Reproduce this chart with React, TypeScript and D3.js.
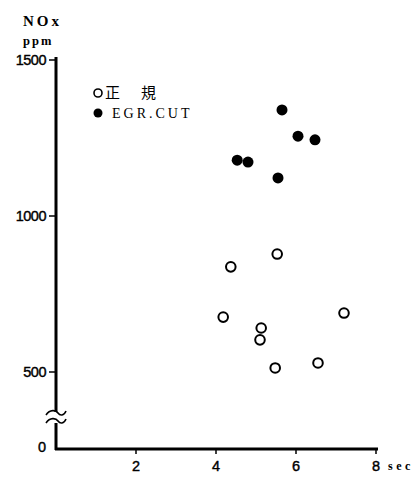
import React from "react";
import * as d3 from "d3";

const normalX = [5.53, 4.37, 4.18, 5.13, 5.1, 5.48, 6.55, 7.2];
const normalY = [878, 837, 676, 641, 603, 513, 529, 689];
const egrX = [5.65, 6.05, 6.475, 4.53, 4.8, 5.55];
const egrY = [1340, 1256, 1244, 1179, 1173, 1122];
const yTicks = [500, 1000, 1500];
const xTicks = [2, 4, 6, 8];
const legendLabels = ["正　規", "EGR.CUT"];

export default function App() {
  const x = d3.scaleLinear().domain([0, 8]).range([56, 376]);
  const y = d3.scaleLinear().domain([500, 1500]).range([372, 60]);
  const baseY = 449;
  const numFont = "'Liberation Sans', Arial, sans-serif";
  const serif = "'Liberation Serif', 'DejaVu Serif', serif";
  const tilde = (cy: number) =>
    `M46,${cy + 2} C50,${cy - 4} 56,${cy - 3} 58,${cy} C60,${cy + 3} 64,${cy + 3} 66,${cy - 2}`;
  return (
    <svg
      width={419}
      height={478}
      style={{ position: "absolute", left: 0, top: 0, background: "#fff" }}
    >
      <rect width={419} height={478} fill="#fff" />
      {/* y axis */}
      <line x1={56} x2={56} y1={57} y2={baseY + 1} stroke="#000" strokeWidth={3} />
      {/* x axis */}
      <line x1={55} x2={378} y1={baseY} y2={baseY} stroke="#000" strokeWidth={3} />
      {/* break */}
      <rect x={50} y={412} width={12} height={11} fill="#fff" />
      <path d={tilde(413)} fill="none" stroke="#000" strokeWidth={1.6} />
      <path d={tilde(421)} fill="none" stroke="#000" strokeWidth={1.6} />
      {/* y ticks */}
      {yTicks.map((t) => (
        <g key={t}>
          <line x1={49} x2={56} y1={y(t)} y2={y(t)} stroke="#000" strokeWidth={1.5} />
          <text
            x={46}
            y={y(t)}
            dy="0.36em"
            textAnchor="end"
            fontFamily={numFont}
            fontSize={14.5}
            stroke="#000"
            strokeWidth={0.4}
            letterSpacing={-0.5}
          >
            {t}
          </text>
        </g>
      ))}
      <text x={46} y={baseY - 2} dy="0.36em" textAnchor="end" fontFamily={numFont} fontSize={14.5} stroke="#000" strokeWidth={0.4}>
        0
      </text>
      {/* x ticks */}
      {xTicks.map((t) => (
        <g key={t}>
          <line x1={x(t)} x2={x(t)} y1={baseY} y2={baseY + 5} stroke="#000" strokeWidth={1.5} />
          <text
            x={x(t)}
            y={466}
            dy="0.36em"
            textAnchor="middle"
            fontFamily={numFont}
            fontSize={14.5}
            stroke="#000"
            strokeWidth={0.4}
          >
            {t}
          </text>
        </g>
      ))}
      <text x={388} y={466} dy="0.36em" fontFamily={serif} fontSize={12} fontWeight="bold" letterSpacing={3.5}>
        sec
      </text>
      {/* axis title */}
      <text x={23} y={26} fontFamily={serif} fontSize={15} fontWeight="bold" letterSpacing={3}>
        NOx
      </text>
      <text x={23} y={45} fontFamily={serif} fontSize={12.5} fontWeight="bold" letterSpacing={2}>
        ppm
      </text>
      {/* legend */}
      <circle cx={98} cy={93} r={4} fill="#fff" stroke="#000" strokeWidth={1.6} />
      <text x={105} y={93} dy="0.36em" fontFamily="'Noto Sans CJK JP', sans-serif" fontSize={15} letterSpacing={3}>
        {legendLabels[0]}
      </text>
      <circle cx={98} cy={113} r={4.5} fill="#000" />
      <text x={112} y={113} dy="0.36em" fontFamily={serif} fontSize={14} letterSpacing={3}>
        {legendLabels[1]}
      </text>
      {/* points */}
      {normalX.map((v, i) => (
        <circle
          key={"n" + i}
          cx={x(v)}
          cy={y(normalY[i])}
          r={4.8}
          fill="#fff"
          stroke="#000"
          strokeWidth={2}
        />
      ))}
      {egrX.map((v, i) => (
        <circle key={"e" + i} cx={x(v)} cy={y(egrY[i])} r={5.5} fill="#000" />
      ))}
    </svg>
  );
}
